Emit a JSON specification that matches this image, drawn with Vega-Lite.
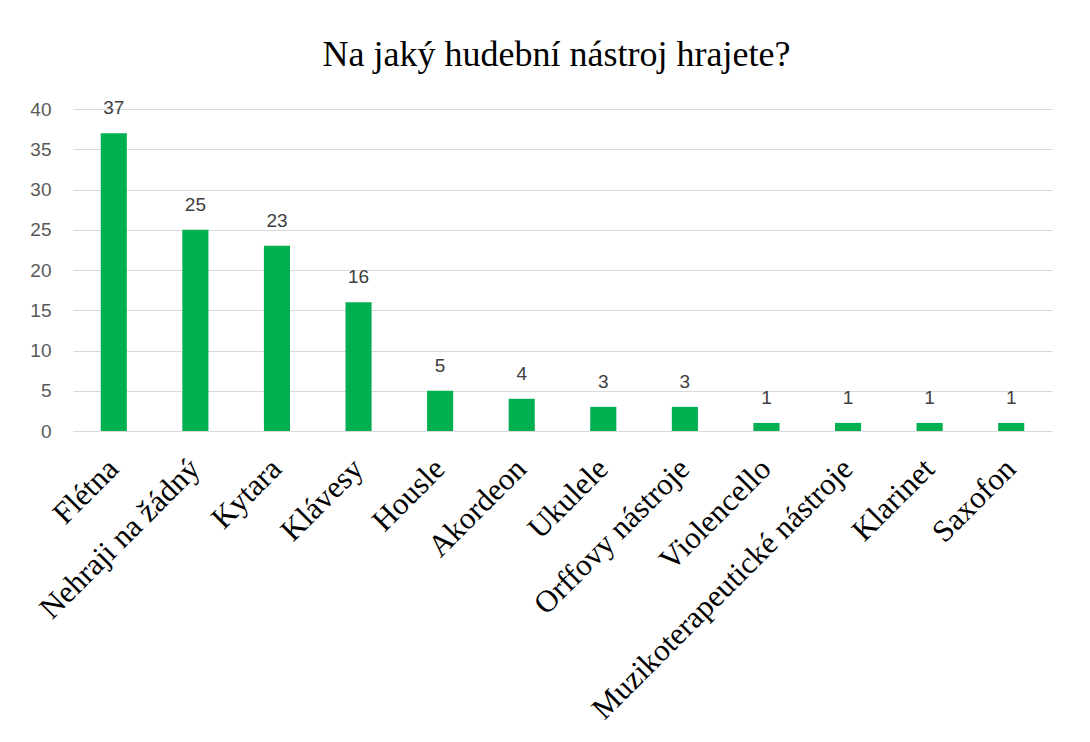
{
  "$schema": "https://vega.github.io/schema/vega-lite/v6.json",
  "width": 979,
  "height": 322,
  "autosize": {"type": "none"},
  "padding": {"left": 73, "top": 109, "right": 38, "bottom": 311},
  "background": "white",
  "config": {"view": {"stroke": null}},
  "title": {
    "text": "Na jaký hudební nástroj hrajete?",
    "font": "Liberation Serif",
    "fontSize": 36,
    "fontWeight": "normal",
    "color": "#000000",
    "anchor": "middle",
    "dx": -6,
    "offset": 25
  },
  "data": {
    "values": [
      {"nastroj": "Flétna", "pocet": 37},
      {"nastroj": "Nehraji na žádný", "pocet": 25},
      {"nastroj": "Kytara", "pocet": 23},
      {"nastroj": "Klávesy", "pocet": 16},
      {"nastroj": "Housle", "pocet": 5},
      {"nastroj": "Akordeon", "pocet": 4},
      {"nastroj": "Ukulele", "pocet": 3},
      {"nastroj": "Orffovy nástroje", "pocet": 3},
      {"nastroj": "Violencello", "pocet": 1},
      {"nastroj": "Muzikoterapeutické nástroje", "pocet": 1},
      {"nastroj": "Klarinet", "pocet": 1},
      {"nastroj": "Saxofon", "pocet": 1}
    ]
  },
  "encoding": {
    "x": {
      "field": "nastroj",
      "type": "nominal",
      "sort": null,
      "scale": {"paddingInner": 0.68, "paddingOuter": 0.34},
      "axis": {
        "title": null,
        "labelAngle": -45,
        "labelAlign": "right",
        "labelBaseline": "middle",
        "labelFont": "Liberation Serif",
        "labelFontSize": 31,
        "labelColor": "#000000",
        "labelPadding": 33,
        "labelLimit": 600,
        "ticks": false,
        "domainColor": "#d9d9d9",
        "domainWidth": 1
      }
    },
    "y": {
      "field": "pocet",
      "type": "quantitative",
      "scale": {"domain": [0, 40]},
      "axis": {
        "title": null,
        "values": [0, 5, 10, 15, 20, 25, 30, 35, 40],
        "domain": false,
        "ticks": false,
        "labelFont": "Liberation Sans",
        "labelFontSize": 19,
        "labelColor": "#595959",
        "labelPadding": 22,
        "gridColor": "#d9d9d9",
        "gridWidth": 1
      }
    }
  },
  "layer": [
    {"mark": {"type": "bar", "color": "#00B050"}},
    {
      "mark": {
        "type": "text",
        "baseline": "bottom",
        "dy": -15,
        "font": "Liberation Sans",
        "fontSize": 19,
        "color": "#404040"
      },
      "encoding": {"text": {"field": "pocet", "type": "quantitative"}}
    }
  ]
}
